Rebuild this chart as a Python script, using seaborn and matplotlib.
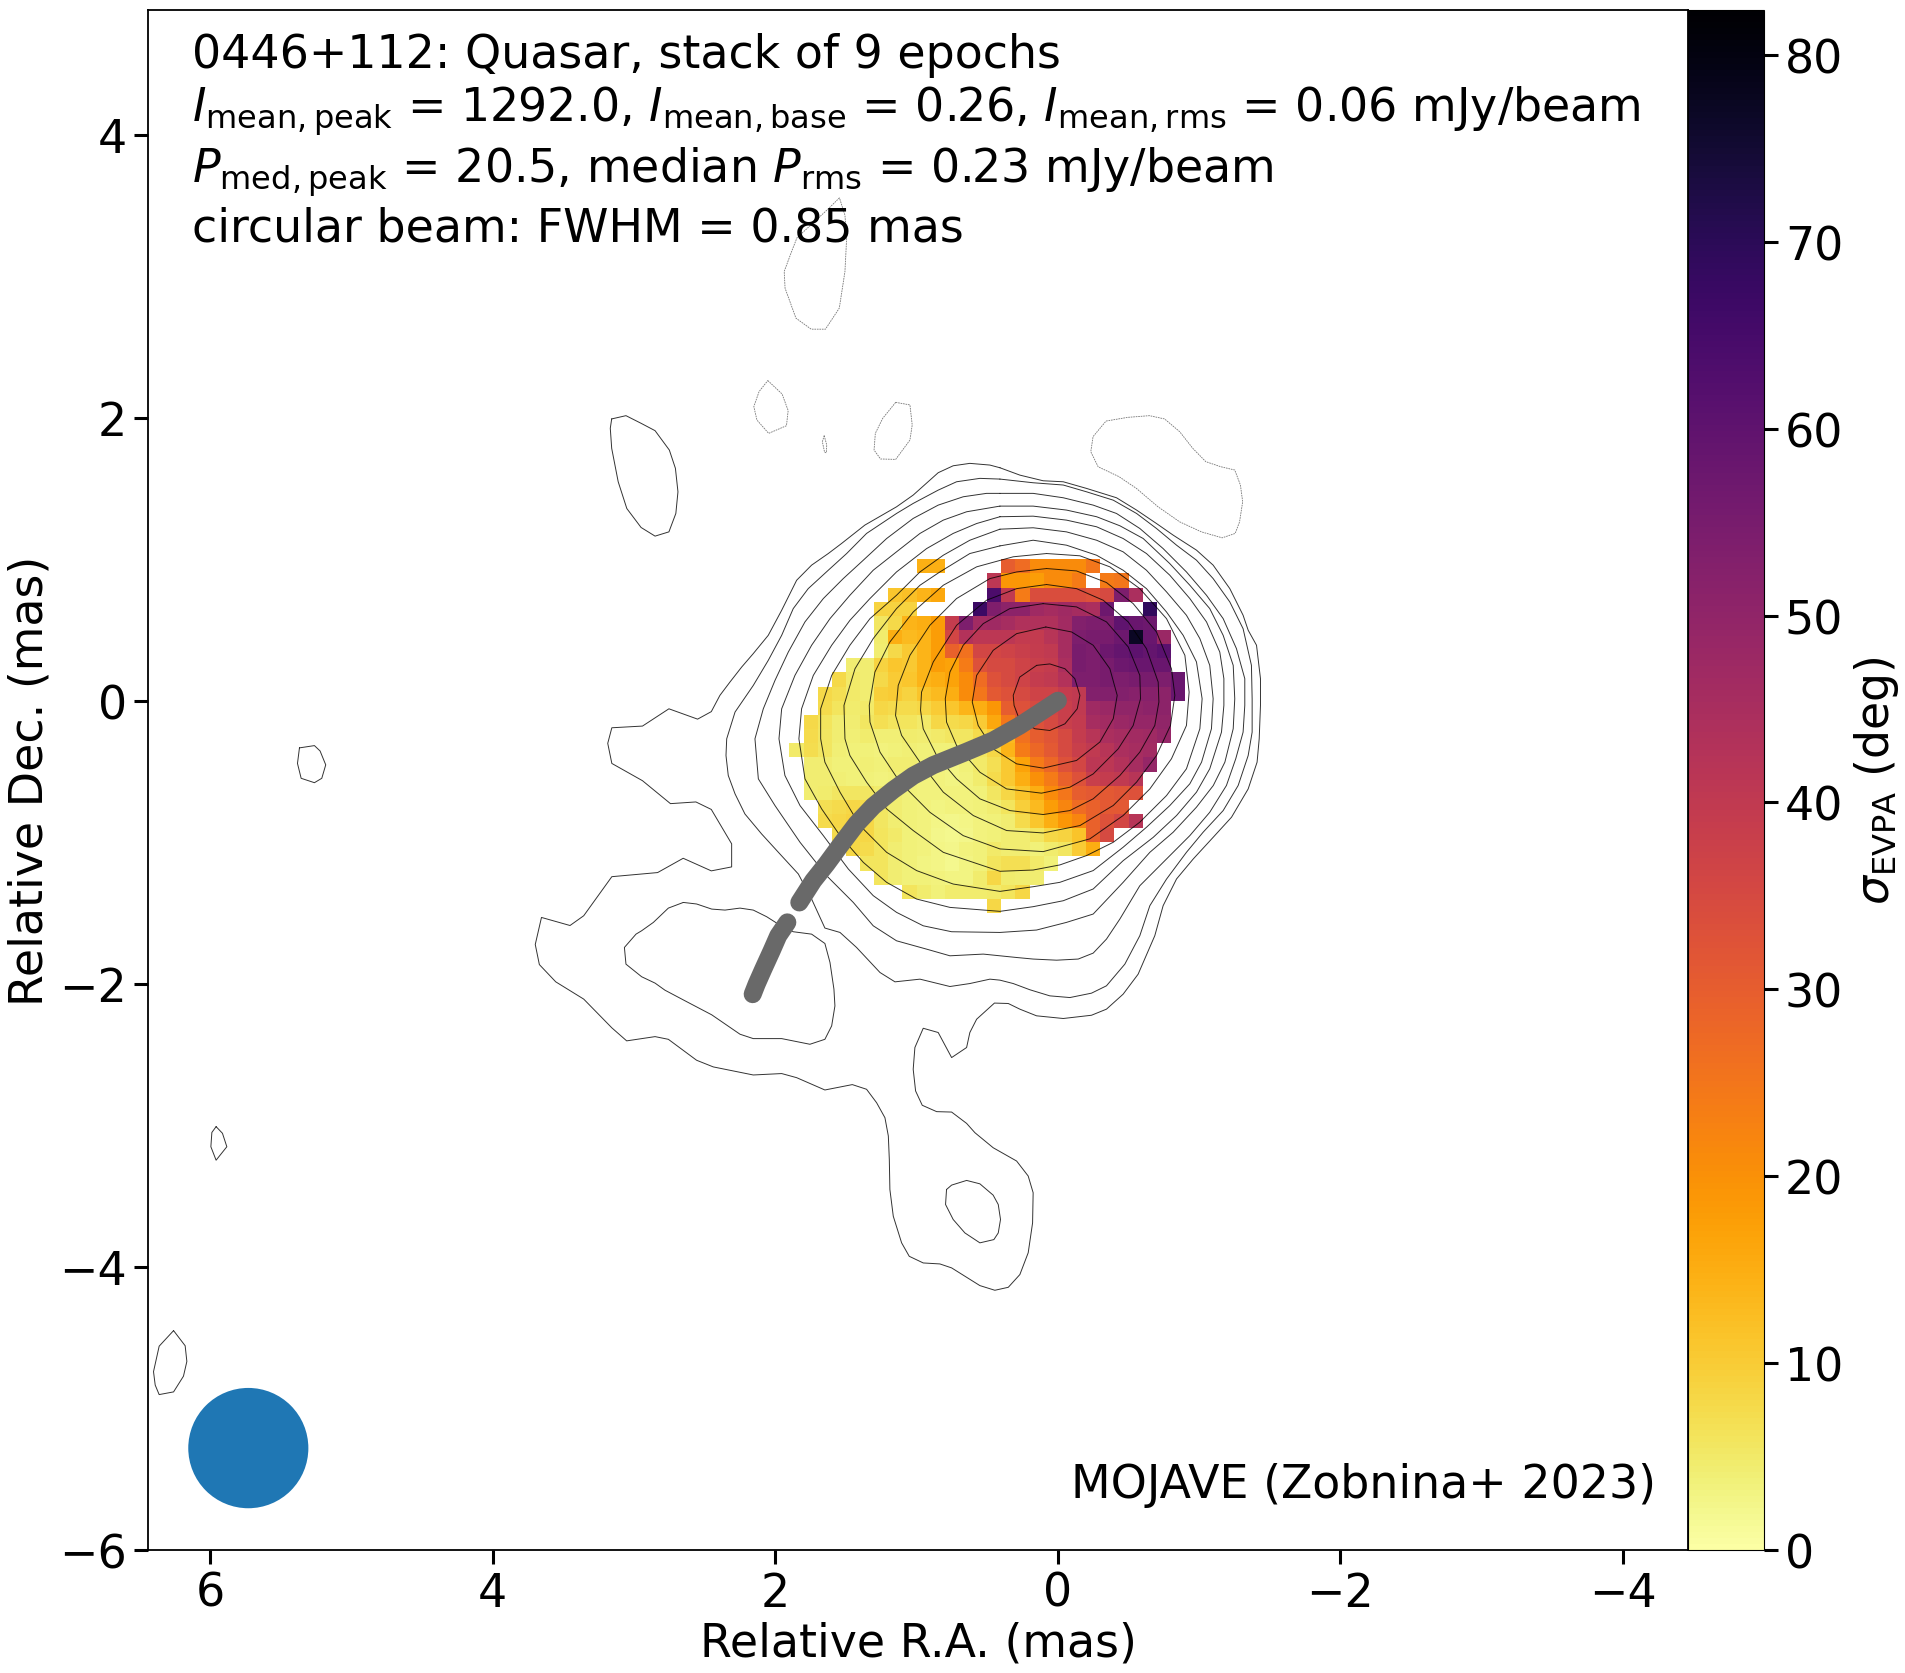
import numpy as np
import matplotlib
matplotlib.use("Agg")
import matplotlib.pyplot as plt
from matplotlib.patches import Circle
import seaborn as sns

# contours, (R.A., Dec.) in mas, outermost first
contour_1 = [(.41,1.646),(.481,1.665),(.623,1.677),(.741,1.66),(.847,1.611),(1.024,1.453),(1.142,1.37),(1.366,1.241),(1.531,1.111),(1.625,1.04),(1.743,.958),(1.849,.851),(1.955,.639),(2.05,.462),(2.156,.333),(2.238,.238),(2.321,.132),(2.392,.038),
    (2.453,-.077),(2.55,-.13),(2.753,-.057),(2.94,-.179),(3.157,-.191),(3.186,-.301),(3.157,-.443),(2.94,-.565),(2.742,-.727),(2.562,-.715),(2.453,-.768),(2.309,-1.011),(2.309,-1.174),(2.453,-1.202),(2.652,-1.113),(2.833,-1.214),(3.157,-1.243),(3.356,-1.519),(3.453,-1.588),(3.655,-1.531),(3.699,-1.722),(3.67,-1.864),(3.554,-1.986),(3.356,-2.108),(3.157,-2.311),
    (3.052,-2.403),(2.851,-2.373),(2.757,-2.392),(2.557,-2.54),(2.439,-2.587),(2.156,-2.644),(1.955,-2.634),(1.849,-2.663),(1.649,-2.75),(1.455,-2.712),(1.354,-2.745),
    (1.283,-2.84),(1.224,-2.946),(1.2,-3.075),(1.193,-3.241),(1.189,-3.453),(1.165,-3.642),(1.106,-3.83),(1.052,-3.925),(.953,-3.972),(.835,-3.979),(.752,-4.007),(.552,-4.132),(.446,-4.165),(.351,-4.144),(.269,-4.054),(.21,-3.90),(.179,-3.689),(.175,-3.476),(.21,-3.358),(.292,-3.252),(.458,-3.158),(.587,-3.052),(.646,-2.986),(.752,-2.906),(.858,-2.903),(.96,-2.858),(1.007,-2.757),(1.024,-2.604),(1.012,-2.45),(.953,-2.314),(.847,-2.344),(.752,-2.521),(.646,-2.45),(.623,-2.344),(.575,-2.25),(.449,-2.136),
    (.351,-2.139),(.269,-2.179),(.151,-2.226),(-.038,-2.245),(-.238,-2.222),(-.344,-2.179),(-.462,-2.073),(-.568,-1.932),(-.686,-1.66),(-.745,-1.448),(-.84,-1.259),(-.958,-1.118),(-1.099,-.965),(-1.229,-.823),(-1.347,-.623),(-1.41,-.434),(-1.425,-.269),
    (-1.434,-.033),(-1.434,.156),(-1.406,.392),(-1.347,.498),(-1.311,.604),(-1.217,.792),(-1.099,.958),(-.981,1.064),(-.816,1.17),(-.698,1.252),(-.557,1.347),(-.415,1.434),(-.203,1.5),(-.038,1.547),(.104,1.554),(.269,1.594)]
contour_2 = [(.41,1.566),(.175,1.54),(-.038,1.524),(-.203,1.476),(-.392,1.417),(-.557,1.323),(-.698,1.217),(-.84,1.099),(-.981,.993),(-1.099,.863),(-1.217,.698),(-1.311,.509),(-1.37,.25),(-1.375,.014),(-1.375,-.222),
    (-1.347,-.387),(-1.276,-.599),(-1.17,-.776),(-1.028,-.929),(-.91,-1.071),(-.769,-1.26),(-.651,-1.448),(-.58,-1.66),(-.474,-1.861),(-.344,-2.014),(-.238,-2.066),(-.085,-2.097),(.057,-2.085),(.198,-2.042),(.316,-1.998),(.41,-1.974),
    (.481,-1.967),(.623,-1.998),(.764,-2.019),(.976,-1.967),(1.153,-1.986),(1.259,-1.92),(1.425,-1.743),(1.542,-1.637),(1.649,-1.606),(1.743,-1.401),(1.837,-1.224),(1.967,-1.083),(2.097,-.941),(2.215,-.8),(2.285,-.658),(2.333,-.528),(2.349,-.387),(2.344,-.269),
    (2.285,-.08),(2.156,.108),(2.05,.285),(1.955,.462),(1.873,.651),(1.767,.792),(1.625,.922),(1.495,1.04),(1.354,1.182),(1.142,1.323),(1.024,1.394),(.847,1.488),(.717,1.547),(.552,1.571)]
contour_3 = [(.41,1.465),(.175,1.465),(-.038,1.434),(-.25,1.382),(-.415,1.323),(-.58,1.217),(-.745,1.075),(-.91,.91),(-1.052,.745),(-1.17,.58),(-1.264,.368),(-1.323,.156),(-1.323,-.033),(-1.311,-.222),
    (-1.259,-.41),(-1.193,-.599),(-1.075,-.788),(-.934,-.953),(-.769,-1.118),(-.58,-1.307),(-.439,-1.542),(-.344,-1.684),(-.25,-1.783),(-.144,-1.825),(.009,-1.833),(.175,-1.825),(.292,-1.814),(.41,-1.802),
    (.528,-1.79),(.764,-1.802),(.929,-1.755),(1.142,-1.696),(1.307,-1.59),(1.448,-1.425),(1.637,-1.236),(1.825,-1.0),(2.002,-.741),(2.12,-.552),(2.144,-.269),
    (2.085,-.057),(2.002,.144),(1.908,.344),(1.79,.557),(1.66,.722),(1.519,.863),(1.377,.993),(1.212,1.146),(1.024,1.288),(.847,1.382),(.67,1.441),(.505,1.465)]
contour_4 = [(.41,1.375),(.175,1.375),(-.061,1.347),(-.274,1.3),(-.439,1.236),(-.604,1.146),(-.792,.969),(-.934,.816),(-1.075,.651),(-1.17,.462),(-1.241,.25),(-1.252,.014),(-1.241,-.198),
    (-1.182,-.434),(-1.1,-.599),(-.981,-.752),(-.816,-.929),(-.651,-1.071),(-.462,-1.283),(-.25,-1.507),(-.061,-1.566),(.151,-1.62),(.41,-1.637),
    (.752,-1.632),(.953,-1.59),(1.142,-1.495),(1.307,-1.377),(1.483,-1.189),(1.66,-.953),(1.825,-.741),(1.932,-.528),(1.974,-.269),
    (1.955,-.057),(1.861,.179),(1.743,.392),(1.613,.58),(1.472,.745),(1.307,.922),(1.142,1.052),(.976,1.182),(.811,1.276),(.646,1.335)]
contour_5 = [(.41,1.3),(.175,1.304),(-.061,1.276),(-.274,1.229),(-.462,1.146),(-.627,1.04),(-.792,.887),(-.934,.722),(-1.052,.557),(-1.146,.344),(-1.175,.156),(-1.175,-.033),(-1.158,-.222),
    (-1.075,-.481),(-.981,-.646),(-.84,-.811),(-.675,-.965),(-.462,-1.13),(-.25,-1.33),(-.038,-1.413),(.175,-1.455),(.41,-1.488),
    (.764,-1.46),(1.0,-1.401),(1.212,-1.283),(1.377,-1.142),(1.542,-.953),(1.672,-.764),(1.79,-.552),(1.833,-.269),
    (1.814,-.057),(1.731,.179),(1.601,.392),(1.472,.568),(1.33,.722),(1.142,.91),(.929,1.075),(.741,1.182),(.575,1.252)]
contour_6 = [(.41,1.212),(.175,1.222),(-.061,1.193),(-.274,1.134),(-.462,1.052),(-.627,.922),(-.769,.769),(-.91,.604),(-1.005,.439),(-1.075,.25),(-1.099,.014),(-1.087,-.198),
    (-1.017,-.434),(-.934,-.587),(-.792,-.741),(-.627,-.894),(-.462,-1.035),(-.25,-1.2),(-.014,-1.283),(.175,-1.314),(.41,-1.347),
    (.741,-1.295),(1.0,-1.2),(1.212,-1.071),(1.401,-.882),(1.542,-.646),(1.649,-.434),(1.679,-.269),
    (1.679,-.057),(1.601,.179),(1.472,.392),(1.33,.58),(1.142,.745),(.976,.91),(.811,1.028),(.623,1.134)]
contour_7 = [(.41,1.094),(.175,1.134),(-.061,1.099),(-.274,1.028),(-.462,.922),(-.627,.792),(-.769,.627),(-.887,.462),(-.981,.274),(-1.021,.014),(-1.005,-.198),
    (-.91,-.481),(-.769,-.670),(-.58,-.858),(-.392,-1.0),(-.203,-1.094),(-.014,-1.16),(.175,-1.196),(.41,-1.205),
    (.599,-1.142),(.811,-1.071),(1.024,-.917),(1.212,-.764),(1.354,-.575),(1.472,-.387),(1.507,-.269),
    (1.514,-.033),(1.436,.226),(1.307,.439),(1.142,.651),(.976,.816),(.835,.91),(.623,1.04)]
contour_8 = [(.08,1.04),(-.156,1.024),(-.368,.946),(-.58,.792),(-.769,.58),(-.899,.321),(-.929,.061),(-.91,-.175),(-.804,-.41),(-.651,-.623),(-.462,-.811),(-.226,-.976),(.104,-1.066),(.41,-1.047),(.67,-.953),(.906,-.788),(1.118,-.575),(1.259,-.363),(1.33,-.151),(1.335,-.033),(1.295,.203),(1.189,.415),(1.024,.627),(.811,.816),(.575,.946),(.316,1.017)]
contour_9 = [(.08,.934),(-.132,.917),(-.344,.835),(-.533,.686),(-.698,.486),(-.804,.226),(-.828,.038),(-.797,-.175),(-.698,-.387),(-.557,-.575),(-.392,-.74),(-.156,-.882),(.104,-.934),(.363,-.917),(.599,-.811),(.811,-.646),(.976,-.434),(1.106,-.245),(1.149,-.104),(1.13,.108),(1.047,.321),(.906,.533),(.717,.722),(.481,.863),(.292,.91)]
contour_10 = [(.08,.821),(-.132,.792),(-.321,.71),(-.498,.557),(-.627,.368),(-.71,.132),(-.715,-.009),(-.686,-.175),(-.58,-.363),(-.439,-.528),(-.25,-.693),(-.085,-.776),(.104,-.804),(.34,-.776),(.552,-.693),(.717,-.552),(.858,-.387),(.953,-.198),(.972,-.068),(.965,.061),(.882,.274),(.717,.533),(.505,.71),(.292,.792)]
contour_11 = [(.104,.686),(-.132,.663),(-.344,.557),(-.498,.38),(-.58,.179),(-.585,.014),(-.533,-.175),(-.427,-.34),(-.25,-.517),(-.085,-.611),(.116,-.653),(.363,-.623),(.552,-.505),(.717,-.316),(.788,-.151),(.797,.014),(.764,.203),(.67,.392),(.528,.545),(.34,.651)]
contour_12 = [(.085,.521),(-.097,.486),(-.25,.392),(-.368,.226),(-.42,.038),(-.392,-.127),(-.297,-.292),(-.132,-.422),(.104,-.476),(.292,-.446),(.458,-.34),(.564,-.175),(.606,-.009),(.575,.179),(.458,.356),(.292,.474)]
contour_13 = [(.15,.25),(.057,.26),(-.05,.226),(-.12,.156),(-.156,.038),(-.137,-.057),(-.05,-.163),(.057,-.21),(.163,-.198),(.27,-.139),(.31,-.033),(.316,.038),(.27,.167)]
island_lobe = [(2.651,-1.425),(2.557,-1.436),(2.45,-1.472),(2.356,-1.479),(2.25,-1.465),(2.156,-1.479),(2.061,-1.526),(1.979,-1.578),(1.873,-1.632),(1.743,-1.649),(1.649,-1.715),(1.613,-1.849),(1.585,-2.038),(1.578,-2.156),(1.601,-2.297),(1.649,-2.392),(1.755,-2.427),(1.955,-2.387),(2.156,-2.387),(2.25,-2.356),(2.45,-2.219),(2.639,-2.12),(2.781,-2.045),(2.851,-1.995),(2.946,-1.95),(3.057,-1.861),(3.068,-1.743),(2.986,-1.649),(2.946,-1.625),(2.863,-1.566),(2.757,-1.465)]
island_south = [(.788,-3.453),(.752,-3.422),(.646,-3.389),(.552,-3.413),(.458,-3.493),(.422,-3.559),(.406,-3.665),(.422,-3.76),(.453,-3.807),(.552,-3.83),(.658,-3.76),(.741,-3.665),(.795,-3.559)]
island_north = [(3.158,1.991),(3.057,2.014),(2.95,1.96),(2.851,1.908),(2.75,1.771),(2.707,1.642),(2.689,1.476),(2.704,1.323),(2.753,1.193),(2.851,1.163),(2.95,1.224),(3.051,1.358),(3.112,1.547),(3.158,1.783),(3.168,1.925)]
island_a = [(5.368,-.333),(5.262,-.317),(5.222,-.355),(5.182,-.453),(5.21,-.548),(5.262,-.579),(5.356,-.548),(5.382,-.443)]
island_b = [(5.958,-3.009),(5.913,-3.056),(5.882,-3.151),(5.958,-3.246),(5.995,-3.151),(5.988,-3.05)]
island_c = [(6.259,-4.45),(6.177,-4.557),(6.165,-4.668),(6.189,-4.772),(6.259,-4.883),(6.361,-4.902),(6.389,-4.835),(6.401,-4.74),(6.361,-4.56)]

# negative contours, dashed
neg_top = [(1.546,3.553),(1.62,3.48),(1.847,3.27),(1.883,3.178),(1.937,3.033),(1.931,2.915),(1.854,2.703),(1.746,2.625),(1.645,2.625),(1.547,2.774),(1.507,3.033),(1.495,3.269),(1.507,3.43)]
neg_a = [(2.053,2.262),(1.952,2.167),(1.909,2.05),(1.921,1.943),(2.047,1.889),(2.13,1.983),(2.152,2.078),(2.115,2.184)]
neg_tiny = [(1.654,1.873),(1.636,1.807),(1.639,1.752),(1.651,1.755),(1.667,1.83)]
neg_b = [(1.148,2.108),(1.047,2.09),(1.031,1.948),(1.047,1.842),(1.148,1.705),(1.255,1.708),(1.301,1.771),(1.292,1.889),(1.24,1.995)]
neg_c = [(-.341,1.976),(-.494,2.002),(-.648,2.014),(-.755,1.991),(-.862,1.901),(-.955,1.783),(-1.047,1.689),(-1.154,1.653),(-1.252,1.63),(-1.292,1.524),(-1.308,1.406),(-1.286,1.264),(-1.255,1.182),(-1.163,1.151),(-1.016,1.193),(-.862,1.264),(-.709,1.37),(-.556,1.5),(-.433,1.583),(-.285,1.653),(-.233,1.759),(-.249,1.866)]

# ridge line, two pieces
ridge_inner = [(0,0),(.104,-.068),(.269,-.175),(.458,-.281),(.646,-.36),(.882,-.455),(1.024,-.53),(1.165,-.63),(1.307,-.745),(1.425,-.87),(1.542,-1.024),(1.637,-1.153),(1.731,-1.271),(1.83,-1.425)]
ridge_outer = [(1.915,-1.566),(1.979,-1.66),(2.026,-1.767),(2.085,-1.896),(2.132,-2.002),(2.16,-2.073)]

# sigma EVPA map, 0.1 mas pixels, one row per Dec. from +1.0 down to -1.5
n = np.nan
sigma_first_col = [9,14,7,6,6,6,6,4,3,2,2,1,1,0,1,1,1,2,2,3,4,5,6,8,14]
sigma_rows = [
    [14.5,14.5,n,n,n,n,30,27,21,21,21,21,25],
    [41,19,19,18,21,21,24,n,24,25],
    [11,12,14,16,n,n,n,64,40,24,34,34,34,34,33,35,54,44.5],
    [9,9,9,n,n,n,n,67,53.5,51,51,47,46,47,46,44.5,57,n,n,69],
    [5.6,8,14,15,18,39,54,46.5,47,45.5,43.5,43.5,43.5,46.5,53,54,54,60,58,57],
    [4.8,15,13,14,18,36,43,41,41,41,39.5,39.5,42,45.5,54,55,55,57,77,58,48],
    [4.3,8,10.5,14,18,29,26,36,36,37,38,39,40,45.5,55,54,57,59,60.5,59,61],
    [4.3,4.3,9,11,10.5,14,18,17,24,33,35,35,37,38,39,44.5,55,54,55,57,58,58,58],
    [8,5.1,4.5,8,10,11,14,15,17,21,27,33,35,37,39,40,43,54,54,55,54,55,55,54,58],
    [8,7,5.1,4.5,9.5,10,9,11.5,13,15,21,25,31,33,35,37,37,39,40,53,53,53,52,52,51,58],
    [7.7,6,4.8,5.1,8.2,7.7,7.7,8.2,10,11,14,15,19,30,33,35,36,38,40,47,48,50,50,51,51],
    [8,6,4.5,4.5,5.6,7,6,6,5.1,8.2,7.7,8.2,10,16,25,31,33,35,38,39.5,45.5,46.5,48,49,49,50],
    [7.5,5.6,4.5,4,4.8,4,4,4.8,4.5,5.1,5.6,5.6,7.7,9.5,13,26,30,32,35,39,42,44.5,45.5,46.5,47,49],
    [5.1,7.2,5.6,4,3.8,3.8,3.5,3.8,4,3.8,3.7,3.8,5.1,5.6,8.2,14,24,28,31,35,38,40,42,44.5,45.5,46.5],
    [4.4,4.5,3.8,3.8,4,3.8,4.5,4.5,3.8,3.5,3.2,3.7,5.1,7,10.5,17,24,28,33,36,41,41,43,45.5,49],
    [4.5,4.5,4,3.8,3.8,3.5,3.8,3.8,3.3,3.3,3,3.3,4.6,7.5,10.5,15,20,24,29,33,38,39,40,42],
    [4.4,4.8,5.6,5.6,5.6,4.8,4.5,3.8,3.3,3.3,3.3,3.3,3.7,5.6,8.2,11.5,15,21,25,30,31,31,32,33],
    [7,7.7,8.2,7.5,5.6,4.4,3.8,3.3,3,3.3,3.3,3.8,4.4,6,9.5,13,18,22,27,29,31,31],
    [7.7,8.2,9,8.2,5.6,4.4,3.8,3.3,2.6,2.3,2.6,3.3,3.7,4.5,7.7,11,15,19,22,29,33,36,42],
    [7.7,8.2,8.2,6,5.1,3.7,3.3,2.3,2,2.3,3.3,3.7,4.4,4.5,5.6,8.2,9,11.5,29,35],
    [8.2,7.7,6,4.4,3.7,3.3,2.6,2.3,3.3,3.7,5.1,4.4,4.4,3.7,4.6,5.6,10,15],
    [6,6,4.4,3.7,3,2.6,2,3,3.7,6,7,7,5.1,3.7],
    [6,4.4,3.7,3.7,3.3,3,3,4.8,8.2,4.8,4.4,4.4],
    [6,4.8,3.8,4.8,4.8,4.8,5.1,6,8.2],
    [8.2],
]

colorbar_ticks = [0, 10, 20, 30, 40, 50, 60, 70, 80]
x_ticks = [6, 4, 2, 0, -2, -4]
y_ticks = [-6, -4, -2, 0, 2, 4]
title_lines = [
    "0446+112: Quasar, stack of 9 epochs",
    r"$I_\mathrm{mean,peak}$ = 1292.0, $I_\mathrm{mean,base}$ = 0.26, $I_\mathrm{mean,rms}$ = 0.06 mJy/beam",
    r"$P_\mathrm{med,peak}$ = 20.5, median $P_\mathrm{rms}$ = 0.23 mJy/beam",
    "circular beam: FWHM = 0.85 mas",
]

sns.set_theme(style="ticks", rc={"axes.edgecolor": "black", "xtick.color": "black", "ytick.color": "black",
                                 "text.color": "black", "axes.labelcolor": "black", "axes.linewidth": 1.3})
plt.rcParams["font.family"] = "DejaVu Sans"

W, H = 1905, 1674
fig = plt.figure(figsize=(W / 100, H / 100), dpi=100)
ax = fig.add_axes([148 / W, 1 - 1551 / H, 1540 / W, 1540 / H])
cax = fig.add_axes([1688 / W, 1 - 1551 / H, 76 / W, 1540 / H])

# pixel map
grid = np.full((25, 28), np.nan)
for i, (first, row) in enumerate(zip(sigma_first_col, sigma_rows)):
    grid[i, first:first + len(row)] = row
ra_edges = np.linspace(1.9, -0.9, 29)
dec_edges = np.linspace(1.0, -1.5, 26)
cmap = sns.color_palette("inferno_r", as_cmap=True)
mesh = ax.pcolormesh(ra_edges, dec_edges, grid, cmap=cmap, vmin=0, vmax=82.4, zorder=1)

def draw_loops(loops, **kw):
    for loop in loops:
        ra, dec = zip(*(loop + loop[:1]))
        sns.lineplot(x=list(ra), y=list(dec), sort=False, estimator=None, ax=ax, zorder=2, **kw)

draw_loops([contour_1, contour_2, contour_3, contour_4, contour_5, contour_6, contour_7,
            contour_8, contour_9, contour_10, contour_11, contour_12, contour_13,
            island_lobe, island_south, island_north, island_a, island_b, island_c],
           color="black", lw=0.7, alpha=0.8)
draw_loops([neg_top, neg_a, neg_tiny, neg_b, neg_c], color="#777777", lw=0.6, linestyle=(0, (2, 1)))

for piece in [ridge_inner, ridge_outer]:
    ra, dec = zip(*piece)
    sns.lineplot(x=list(ra), y=list(dec), sort=False, estimator=None, ax=ax, color="dimgray",
                 lw=13, solid_capstyle="round", zorder=3)

ax.add_patch(Circle((5.73, -5.28), 0.425, facecolor="#1f77b4", lw=0, zorder=4))

ax.set_xlim(6.44, -4.46)
ax.set_ylim(-6, 4.88)
ax.set_xticks(x_ticks)
ax.set_yticks(y_ticks)
ax.tick_params(labelsize=33, length=10, width=2.2, pad=5)
ax.set_xlabel("Relative R.A. (mas)", fontsize=33, labelpad=3.5)
ax.set_ylabel("Relative Dec. (mas)", fontsize=33, labelpad=5)

ax.text(0.0283, 0.986, "\n".join(title_lines), transform=ax.transAxes, fontsize=33, va="top", ha="left",
        linespacing=1.2, zorder=5)
ax.text(0.979, 0.028, "MOJAVE (Zobnina+ 2023)", transform=ax.transAxes, fontsize=33, va="bottom", ha="right", zorder=5)

cbar = fig.colorbar(mesh, cax=cax)
cbar.set_ticks(colorbar_ticks)
cbar.ax.tick_params(labelsize=33, length=10, width=2.2, pad=5)
cbar.outline.set_linewidth(0.8)
cbar.set_label(r"$\sigma_\mathrm{EVPA}$ (deg)", fontsize=33, labelpad=6)

fig.savefig("out.png", dpi=100)
